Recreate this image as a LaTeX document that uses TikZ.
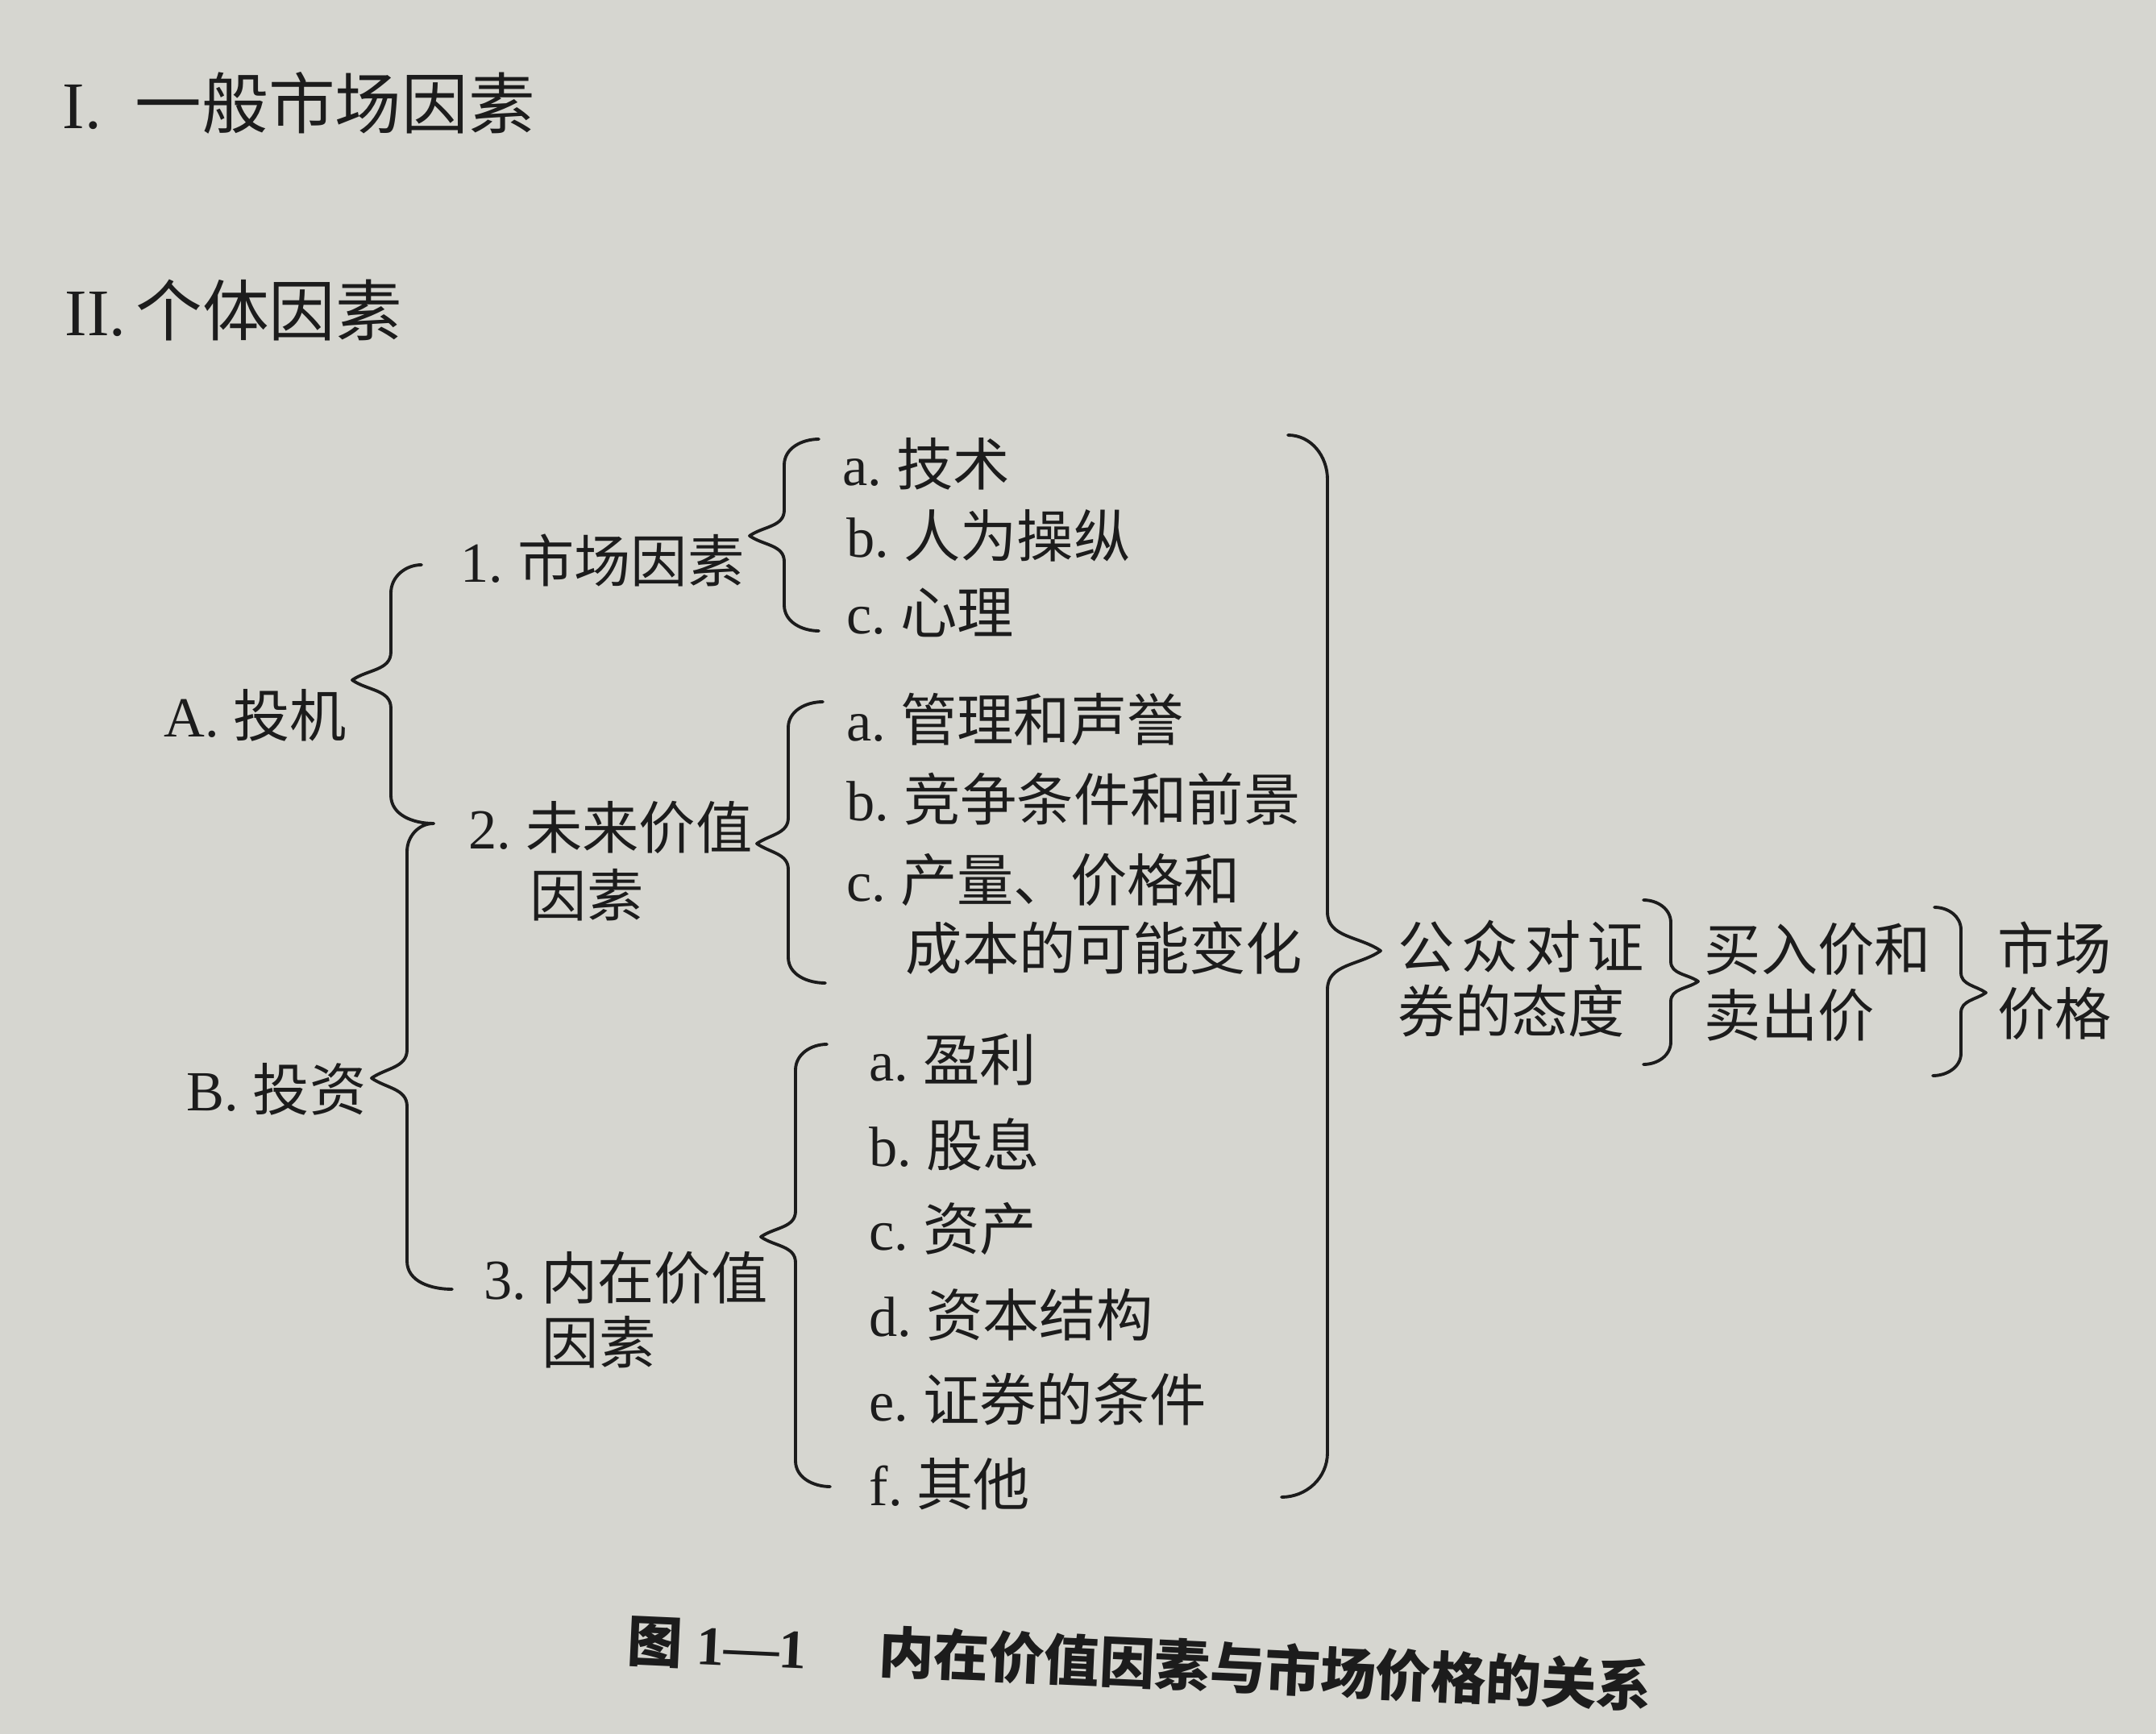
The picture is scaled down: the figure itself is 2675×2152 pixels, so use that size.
\documentclass[tikz,border=0pt]{standalone}
\usepackage{fontspec}
\setmainfont{Liberation Serif}
\newfontfamily\cjk{Noto Sans CJK SC}
\usetikzlibrary{calc}

\definecolor{paper}{RGB}{214,214,208}
\definecolor{ink}{RGB}{28,28,28}

\newcommand{\zh}[1]{{\cjk #1}}

% left brace: top end, vertical x, tip, bottom end, hook and tip lengths
\newcommand{\bracel}[9]{%
  \draw[brc] (#1,#2) to[out=180,in=90] (#3,#2+#8) -- (#3,#5-#9)
    to[out=270,in=35] (#4,#5) to[out=-35,in=90] (#3,#5+#9)
    -- (#3,#7-#8) to[out=270,in=180] (#6,#7);}
% right brace, same arguments
\newcommand{\bracer}[9]{%
  \draw[brc] (#1,#2) to[out=0,in=90] (#3,#2+#8) -- (#3,#5-#9)
    to[out=270,in=145] (#4,#5) to[out=215,in=90] (#3,#5+#9)
    -- (#3,#7-#8) to[out=270,in=0] (#6,#7);}

\tikzset{
  item/.style={anchor=west, inner sep=0pt, text=ink, font=\fontsize{20pt}{24pt}\selectfont},
  head/.style={item, font=\fontsize{23.5pt}{28pt}\selectfont},
  brc/.style={draw=ink, line width=1.1pt, line cap=round, line join=round},
}

\begin{document}
\begin{tikzpicture}[x=0.01cm, y=-0.01cm]

  \fill[paper] (0,0) rectangle (2675,2152);
  \useasboundingbox (0,0) rectangle (2675,2152);

  % headings
  \node[head] (gen) at (77,128) {I.\hspace{0.42cm}\zh{一般市场因素}};
  \node[head] (ind) at (80,385) {II.\hspace{0.12cm}\zh{个体因素}};

  % first level
  \node[item] (spec) at (203,888) {A.\ \zh{投机}};
  \node[item] (inv) at (231,1352) {B.\ \zh{投资}};

  % second level
  \node[item] (mkt) at (571,695) {1.\ \zh{市场因素}};
  \node[item] (fut) at (581,1027) {2.\ \zh{未来价值}};
  \node[item] (fut2) at (657,1111) {\zh{因素}};
  \node[item] (intr) at (600,1586) {3.\ \zh{内在价值}};
  \node[item] (intr2) at (672,1666) {\zh{因素}};

  % third level
  \node[item] (tech) at (1045,576) {a.\ \zh{技术}};
  \node[item] (manip) at (1050,665) {b.\ \zh{人为操纵}};
  \node[item] (psy) at (1050,760) {c.\ \zh{心理}};

  \node[item] (mgmt) at (1050,893) {a.\ \zh{管理和声誉}};
  \node[item] (comp) at (1050,992) {b.\ \zh{竞争条件和前景}};
  \node[item] (outp) at (1050,1092) {c.\ \zh{产量、价格和}};
  \node[item] (outp2) at (1123,1177) {\zh{成本的可能变化}};

  \node[item] (earn) at (1078,1315) {a.\ \zh{盈利}};
  \node[item] (divi) at (1078,1420) {b.\ \zh{股息}};
  \node[item] (asset) at (1078,1525) {c.\ \zh{资产}};
  \node[item] (capst) at (1078,1632) {d.\ \zh{资本结构}};
  \node[item] (terms) at (1078,1737) {e.\ \zh{证券的条件}};
  \node[item] (other) at (1078,1842) {f.\ \zh{其他}};

  % right side
  \node[item] (pub) at (1734,1175) {\zh{公\hspace{0.08cm}众\hspace{0.08cm}对\hspace{0.08cm}证}};
  \node[item] (pub2) at (1734,1255) {\zh{券的态度}};
  \node[item] (bid) at (2114,1178) {\zh{买入价和}};
  \node[item] (bid2) at (2114,1260) {\zh{卖出价}};
  \node[item] (price) at (2478,1176) {\zh{市场}};
  \node[item] (price2) at (2478,1258) {\zh{价格}};

  % braces
  \bracel{523}{701}{485}{437}{844}{538}{1022}{35}{35}
  \bracel{538}{1022}{505}{461}{1338}{561}{1600}{35}{35}
  \bracel{1016}{545}{973}{930}{665}{1016}{783}{32}{32}
  \bracel{1021}{871}{978}{939}{1047}{1024}{1220}{32}{32}
  \bracel{1026}{1296}{987}{944}{1535}{1030}{1845}{32}{32}
  \bracer{1598}{540}{1647}{1713}{1180}{1590}{1858}{55}{48}
  \bracer{2039}{1117}{2073}{2107}{1218}{2039}{1321}{28}{25}
  \bracer{2400}{1126}{2433}{2464}{1232}{2398}{1335}{28}{25}

  % caption
  \node[item, font=\fontsize{19.5pt}{24pt}\selectfont\bfseries, rotate=-2.6] (cap) at (778,2035)
    {\zh{图} 1—1\hspace{1.3em}\zh{内在价值因素与市场价格的关系}};

\end{tikzpicture}
\end{document}
